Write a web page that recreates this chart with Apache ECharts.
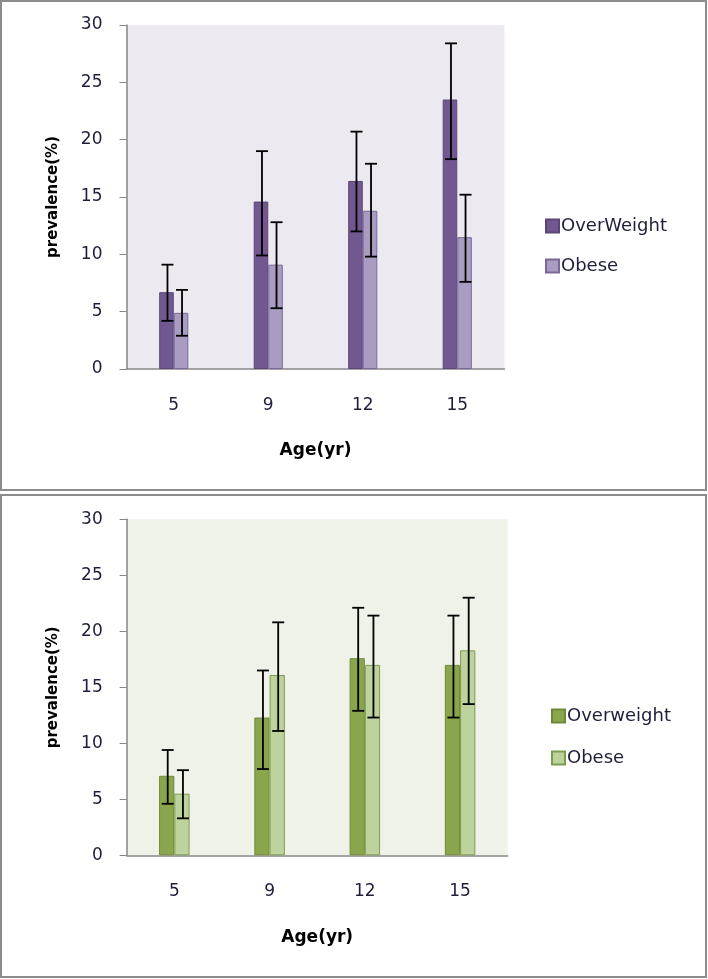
<!DOCTYPE html>
<html>
<head>
<meta charset="utf-8">
<script src="https://cdn.jsdelivr.net/npm/echarts@6/dist/echarts.min.js"></script>
<style>
  html, body { margin: 0; padding: 0; background: #fff; }
  #c1 { position: absolute; left: 0; top: 0; width: 708px; height: 493px; }
  #c2 { position: absolute; left: 0; top: 493px; width: 708px; height: 486px; }
</style>
</head>
<body>
<div id="c1"></div>
<div id="c2"></div>
<script>
// ---- data ----
const categories = ['5', '9', '12', '15'];
const yTicks = [0, 30, 5]; // min, max, interval

// Top panel
const top_overWeight = [6.7, 14.6, 16.4, 23.5];
const top_overWeightLow = [4.2, 9.9, 12.0, 18.3];
const top_overWeightHigh = [9.1, 19.0, 20.7, 28.4];
const top_obese = [4.9, 9.1, 13.8, 11.5];
const top_obeseLow = [2.9, 5.3, 9.8, 7.6];
const top_obeseHigh = [6.9, 12.8, 17.9, 15.2];

// Bottom panel
const bot_overweight = [7.1, 12.3, 17.6, 17.0];
const bot_overweightLow = [4.6, 7.7, 12.9, 12.3];
const bot_overweightHigh = [9.4, 16.5, 22.1, 21.4];
const bot_obese = [5.5, 16.1, 17.0, 18.3];
const bot_obeseLow = [3.3, 11.1, 12.3, 13.5];
const bot_obeseHigh = [7.6, 20.8, 21.4, 23.0];

const FONT = 'DejaVu Sans';

function errData(low, high) {
  return categories.map((c, i) => [i, low[i], high[i]]);
}

function errSeries(low, high, side, barFrac) {
  return {
    type: 'custom',
    silent: true,
    z: 5,
    encode: { x: 0, y: [1, 2] },
    data: errData(low, high),
    renderItem: function (params, api) {
      const idx = api.value(0);
      const pLow = api.coord([idx, api.value(1)]);
      const pHigh = api.coord([idx, api.value(2)]);
      const bw = api.size([1, 0])[0] * barFrac;
      const x = pLow[0] + side * bw / 2 + 1;
      const cap = 6;
      const st = { stroke: '#000', lineWidth: 1.8 };
      return {
        type: 'group',
        children: [
          { type: 'line', shape: { x1: x, y1: pLow[1], x2: x, y2: pHigh[1] }, style: st },
          { type: 'line', shape: { x1: x - cap, y1: pLow[1], x2: x + cap, y2: pLow[1] }, style: st },
          { type: 'line', shape: { x1: x - cap, y1: pHigh[1], x2: x + cap, y2: pHigh[1] }, style: st }
        ]
      };
    }
  };
}

function makeOption(cfg) {
  return {
    animation: false,
    textStyle: { fontFamily: FONT },
    graphic: [{
      type: 'rect',
      shape: cfg.frame,
      style: { fill: 'none', stroke: '#8c8c8c', lineWidth: 2 },
      z: 0
    }],
    legend: {
      orient: 'vertical',
      left: cfg.legendLeft,
      top: cfg.legendTop,
      itemWidth: 13,
      itemHeight: 13,
      itemGap: cfg.legendGap,
      icon: 'rect',
      selectedMode: false,
      data: [cfg.name1, cfg.name2],
      textStyle: { fontFamily: FONT, fontSize: 18, color: '#1e1e3a', padding: [0, 0, 0, -3] }
    },
    grid: {
      left: cfg.gridLeft, top: cfg.gridTop, width: cfg.gridWidth, height: cfg.gridHeight,
      show: true, backgroundColor: cfg.bg, borderWidth: 0
    },
    xAxis: {
      type: 'category',
      data: categories,
      name: 'Age(yr)',
      nameLocation: 'middle',
      nameGap: cfg.xNameGap,
      nameTextStyle: { fontFamily: FONT, fontWeight: 'bold', fontSize: 17, color: '#000' },
      axisLine: { lineStyle: { color: '#868686', width: 1.5 } },
      axisTick: { show: false },
      axisLabel: { margin: cfg.xLabelMargin, fontFamily: FONT, fontSize: 17, color: '#1e1e3a' }
    },
    yAxis: {
      type: 'value',
      min: yTicks[0], max: yTicks[1], interval: yTicks[2],
      name: 'prevalence(%)',
      nameLocation: 'middle',
      nameGap: 66,
      nameTextStyle: { fontFamily: FONT, fontWeight: 'bold', fontSize: 15, color: '#000' },
      axisLine: { show: true, lineStyle: { color: '#868686', width: 1.5 } },
      axisTick: { show: true, length: 7, lineStyle: { color: '#868686' } },
      splitLine: { show: false },
      axisLabel: { margin: 24, fontFamily: FONT, fontSize: 17, color: '#1e1e3a' }
    },
    series: [
      {
        name: cfg.name1, type: 'bar', data: cfg.v1,
        barWidth: (cfg.barFrac * 100) + '%', barGap: '0%',
        itemStyle: { color: cfg.c1, borderColor: cfg.b1, borderWidth: 1 }
      },
      {
        name: cfg.name2, type: 'bar', data: cfg.v2,
        barWidth: (cfg.barFrac * 100) + '%', barGap: '0%',
        itemStyle: { color: cfg.c2, borderColor: cfg.b2, borderWidth: 1 }
      },
      errSeries(cfg.low1, cfg.high1, -1, cfg.barFrac),
      errSeries(cfg.low2, cfg.high2, 1, cfg.barFrac)
    ]
  };
}

const chart1 = echarts.init(document.getElementById('c1'), null, { renderer: 'canvas' });
chart1.setOption(makeOption({
  frame: { x: 1, y: 1, width: 705, height: 489 },
  legendLeft: 540, legendTop: 212, legendGap: 22,
  name1: 'OverWeight', name2: 'Obese',
  gridLeft: 126.5, gridTop: 25, gridWidth: 378, gridHeight: 344,
  bg: '#ece9f0',
  xNameGap: 73, xLabelMargin: 28,
  barFrac: 0.154,
  v1: top_overWeight, v2: top_obese,
  low1: top_overWeightLow, high1: top_overWeightHigh,
  low2: top_obeseLow, high2: top_obeseHigh,
  c1: '#725891', b1: '#5b4676', c2: '#a99bc1', b2: '#7b6898'
}));

const chart2 = echarts.init(document.getElementById('c2'), null, { renderer: 'canvas' });
chart2.setOption(makeOption({
  frame: { x: 1, y: 2, width: 705, height: 482 },
  legendLeft: 546, legendTop: 209, legendGap: 24,
  name1: 'Overweight', name2: 'Obese',
  gridLeft: 126.7, gridTop: 26.3, gridWidth: 381, gridHeight: 336,
  bg: '#eff2e8',
  xNameGap: 74, xLabelMargin: 28,
  barFrac: 0.16,
  v1: bot_overweight, v2: bot_obese,
  low1: bot_overweightLow, high1: bot_overweightHigh,
  low2: bot_obeseLow, high2: bot_obeseHigh,
  c1: '#8aa64d', b1: '#6e8a38', c2: '#bdd29c', b2: '#7f9c4c'
}));
</script>
</body>
</html>
